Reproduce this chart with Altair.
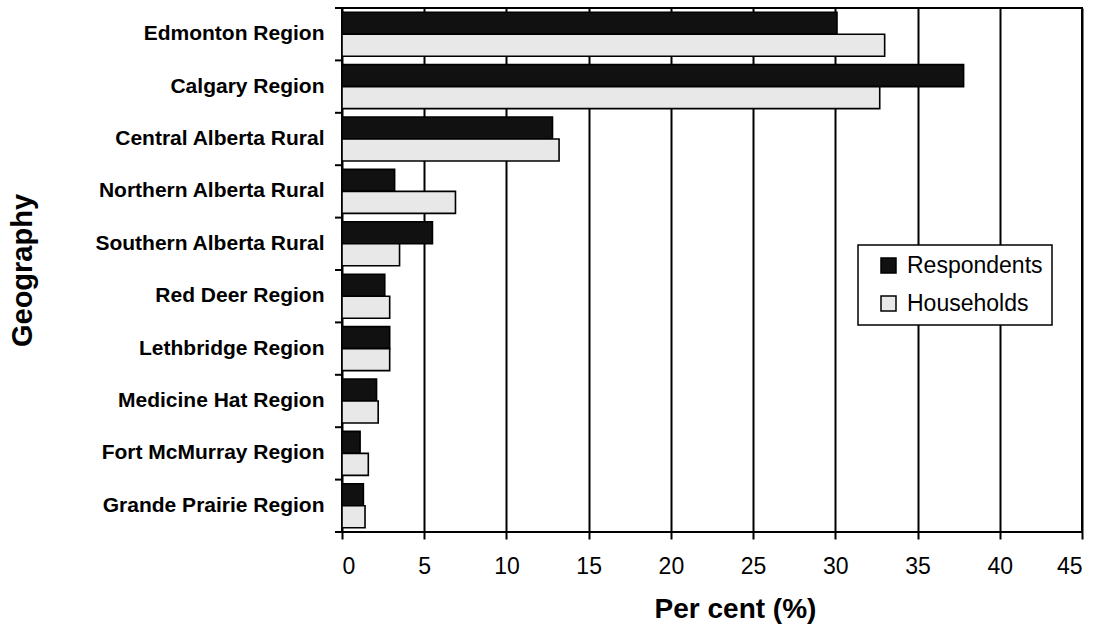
import altair as alt
import pandas as pd

categories = [
    "Edmonton Region", "Calgary Region", "Central Alberta Rural",
    "Northern Alberta Rural", "Southern Alberta Rural", "Red Deer Region",
    "Lethbridge Region", "Medicine Hat Region", "Fort McMurray Region",
    "Grande Prairie Region",
]
series = ["Respondents", "Households"]
respondents = [30.1, 37.8, 12.8, 3.2, 5.5, 2.6, 2.9, 2.1, 1.1, 1.3]
households = [33.0, 32.7, 13.2, 6.9, 3.5, 2.9, 2.9, 2.2, 1.6, 1.4]
x_ticks = [0, 5, 10, 15, 20, 25, 30, 35, 40, 45]
colors = ["#111111", "#e8e8e8"]

rows = []
for c, r, h in zip(categories, respondents, households):
    rows.append({"Geography": c, "Series": "Respondents", "Value": r})
    rows.append({"Geography": c, "Series": "Households", "Value": h})
df = pd.DataFrame(rows)
bounds = pd.DataFrame({"b": list(range(len(categories) + 1))})

FONT = "Liberation Sans"

bars = alt.Chart(df).mark_bar(stroke="black", strokeWidth=1.6).encode(
    x=alt.X("Value:Q",
            scale=alt.Scale(domain=[0, 45], nice=False),
            axis=alt.Axis(values=x_ticks, title="Per cent (%)", grid=True,
                          gridColor="black", gridWidth=2, gridOpacity=1,
                          domain=False, ticks=True, tickSize=7, tickColor="black",
                          tickWidth=2, labelFontSize=23, labelFont=FONT,
                          labelColor="black", labelPadding=16,
                          titleFont=FONT, titleFontSize=28, titleFontWeight="bold",
                          titleColor="black", titleX=393, titleY=85,
                          titleBaseline="alphabetic", titleAlign="center")),
    y=alt.Y("Geography:N", sort=categories,
            scale=alt.Scale(paddingInner=0.16, paddingOuter=0.08),
            axis=alt.Axis(title="Geography", domain=False, ticks=False, tickSize=0,
                          labelFontSize=21, labelFont=FONT, labelFontWeight="bold",
                          labelColor="black", labelPadding=18, labelLimit=400,
                          titleFont=FONT, titleFontSize=29, titleFontWeight="bold",
                          titleColor="black", titleAngle=270, titleX=-311, titleY=262,
                          titleBaseline="alphabetic", titleAlign="center")),
    yOffset=alt.YOffset("Series:N", sort=series,
                        scale=alt.Scale(paddingInner=0, paddingOuter=0)),
    color=alt.Color("Series:N", sort=series,
                    scale=alt.Scale(domain=series, range=colors),
                    legend=alt.Legend(title=None, orient="none", legendX=516, legendY=237,
                                      direction="vertical", symbolType="square",
                                      symbolSize=225, symbolStrokeColor="black",
                                      symbolStrokeWidth=1.5, symbolOffset=10,
                                      labelFontSize=23, labelFont=FONT, labelColor="black",
                                      labelOffset=7, rowPadding=14, padding=9,
                                      strokeColor="black", fillColor="white")),
)

ticks = alt.Chart(bounds).mark_rule(color="black", strokeWidth=2).encode(
    y=alt.Y("b:Q", scale=alt.Scale(domain=[0, len(categories)], nice=False, zero=False),
            axis=None),
    x=alt.value(-7),
    x2=alt.value(0),
)

chart = alt.layer(bars, ticks).resolve_scale(y="independent").properties(
    width=740, height=524,
    autosize=alt.AutoSizeParams(type="none"),
    padding={"left": 342, "top": 8, "right": 28, "bottom": 92},
    background="white",
).configure_view(stroke="black", strokeWidth=2).configure_legend(strokeWidth=1.5)

chart.save("out.html", embed_options={"renderer": "svg", "actions": False})
